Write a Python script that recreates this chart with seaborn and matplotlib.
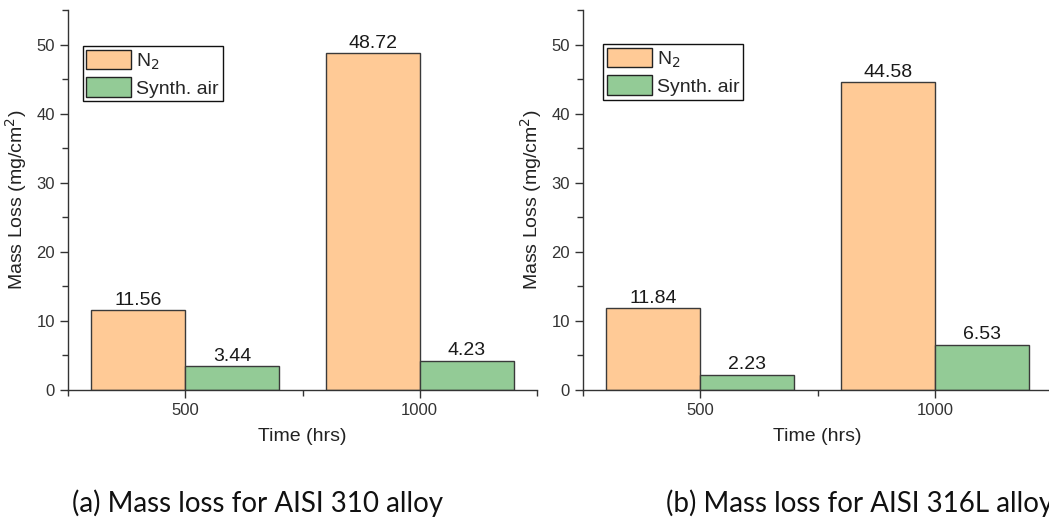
import numpy as np
import pandas as pd
import matplotlib
matplotlib.use("Agg")
import matplotlib.pyplot as plt
import seaborn as sns
from matplotlib.ticker import MultipleLocator, FixedLocator

# ---- data ----
times = ["500", "1000"]
series = ["N$_2$", "Synth. air"]
n2_310 = [11.56, 48.72]
air_310 = [3.44, 4.23]
n2_316 = [11.84, 44.58]
air_316 = [2.23, 6.53]
captions = ["(a) Mass loss for AISI 310 alloy", "(b) Mass loss for AISI 316L alloy"]
colors = ["#FFCA96", "#93CB96"]

sns.set_theme(style="ticks")
plt.rcParams['font.family'] = ['Liberation Sans', 'DejaVu Sans']

W, H = 1049, 520
fig = plt.figure(figsize=(W / 100, H / 100), dpi=100)
ax1 = fig.add_axes([68 / W, 130 / H, 469 / W, 380 / H])
ax2 = fig.add_axes([583 / W, 130 / H, 469 / W, 380 / H])

legend_anchor = [(0.031, 0.905), (0.043, 0.91)]

for ax, n2, air, anc in [(ax1, n2_310, air_310, legend_anchor[0]),
                         (ax2, n2_316, air_316, legend_anchor[1])]:
    df = pd.DataFrame({
        "Time": times + times,
        "Gas": [series[0]] * len(times) + [series[1]] * len(times),
        "Loss": n2 + air,
    })
    sns.barplot(data=df, x="Time", y="Loss", hue="Gas", order=times,
                hue_order=series, palette=colors, saturation=1, width=0.8,
                edgecolor="#3a3a3a", linewidth=1.0, errorbar=None, ax=ax)
    for c in ax.containers:
        ax.bar_label(c, fmt="%.2f", fontsize=14, padding=1, color="#1a1a1a")
    ax.set_xlim(-0.5, 1.5)
    ax.set_ylim(0, 55)
    ax.yaxis.set_major_locator(FixedLocator([0, 10, 20, 30, 40, 50]))
    ax.yaxis.set_minor_locator(MultipleLocator(5))
    ax.xaxis.set_minor_locator(FixedLocator([-0.5, 0.5, 1.5]))
    for s in ["top", "right"]:
        ax.spines[s].set_visible(False)
    for s in ["left", "bottom"]:
        ax.spines[s].set_color("#333333")
        ax.spines[s].set_linewidth(1.0)
    ax.tick_params(which="major", direction="out", length=6, width=1,
                   color="#333333", labelsize=12, labelcolor="#333333")
    ax.tick_params(which="minor", direction="out", length=4, width=1,
                   color="#333333")
    ax.set_xlabel("Time (hrs)", fontsize=14, color="#222222", labelpad=7)
    ax.set_ylabel("Mass Loss (mg/cm$^2$)", fontsize=14, color="#222222", labelpad=5)
    leg = ax.legend(loc="upper left", bbox_to_anchor=anc, borderaxespad=0,
                    fontsize=14, frameon=True, fancybox=False, shadow=False,
                    handlelength=2.3, handleheight=1.15, handletextpad=0.25,
                    borderpad=0.2, labelspacing=0.3, title=None)
    leg.get_frame().set_edgecolor("#111111")
    leg.get_frame().set_linewidth(1.0)
    leg.get_frame().set_alpha(1)
    for p in leg.get_patches():
        p.set_edgecolor("#222222")

fig.text(72 / W, 1 - 512 / H, captions[0], fontsize=20, family=["Lato", "DejaVu Sans"],
         ha="left", va="baseline", color="#111111")
fig.text(666 / W, 1 - 512 / H, captions[1], fontsize=20, family=["Lato", "DejaVu Sans"],
         ha="left", va="baseline", color="#111111")

fig.savefig("out.png", dpi=100)
